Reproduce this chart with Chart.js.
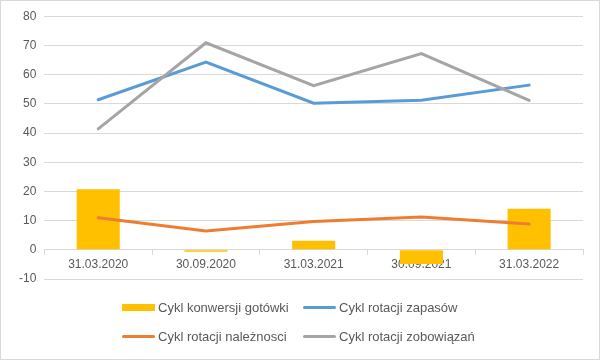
<!DOCTYPE html>
<html>
<head>
<meta charset="utf-8">
<script src="https://cdn.jsdelivr.net/npm/chart.js@4"></script>
<style>
  html, body { margin: 0; padding: 0; background: #fff; }
  #wrap { position: relative; width: 598px; height: 358px; border: 1px solid #d9d9d9; }
  #chart { position: absolute; left: 0; top: 0; }
  #legend {
    position: absolute; left: 121px; top: 297px;
    display: grid; grid-template-columns: 181px 200px; row-gap: 10px;
    font: 13px "Liberation Sans", Arial, sans-serif; color: #595959;
  }
  #legend .item { display: flex; align-items: center; height: 19px; white-space: nowrap; }
  #legend .sw { display: inline-block; width: 33px; margin-right: 3px; }
</style>
</head>
<body>
<div id="wrap">
  <canvas id="chart" width="598" height="358"></canvas>
  <div id="legend"></div>
</div>
<script>
const labels = ["31.03.2020", "30.09.2020", "31.03.2021", "30.09.2021", "31.03.2022"];
const konwersja = [20.7, -0.7, 3.1, -4.9, 14.1];
const zapasy = [51.4, 64.3, 50.2, 51.2, 56.4];
const naleznosci = [11.0, 6.4, 9.7, 11.2, 8.8];
const zobowiazania = [41.4, 70.9, 56.2, 67.2, 51.2];

const fontFamily = '"Liberation Sans", Arial, sans-serif';

const datasets = [
  {
    type: "bar",
    label: "Cykl konwersji gotówki",
    data: konwersja,
    backgroundColor: "#FFC000",
    barPercentage: 0.4,
    categoryPercentage: 1,
    order: 5
  },
  {
    type: "line",
    label: "Cykl rotacji zapasów",
    data: zapasy,
    borderColor: "#5B9BD5",
    borderWidth: 3,
    pointRadius: 0,
    borderCapStyle: "round",
    order: 3
  },
  {
    type: "line",
    label: "Cykl rotacji należnosci",
    data: naleznosci,
    borderColor: "#ED7D31",
    borderWidth: 3,
    pointRadius: 0,
    borderCapStyle: "round",
    order: 2
  },
  {
    type: "line",
    label: "Cykl rotacji zobowiązań",
    data: zobowiazania,
    borderColor: "#A5A5A5",
    borderWidth: 3,
    pointRadius: 0,
    borderCapStyle: "round",
    order: 1
  }
];

new Chart(document.getElementById("chart"), {
  data: { labels, datasets },
  options: {
    responsive: false,
    animation: false,
    layout: { padding: { left: 10, right: 16, top: 12, bottom: 80 } },
    plugins: { legend: { display: false }, tooltip: { enabled: false } },
    scales: {
      x: {
        position: { y: 0 },
        grid: { offset: true, drawOnChartArea: false, drawTicks: true, tickLength: 5, color: "#d9d9d9" },
        border: { color: "#d9d9d9" },
        ticks: { color: "#595959", font: { family: fontFamily, size: 12 }, padding: 3, maxRotation: 0 }
      },
      y: {
        min: -10,
        max: 80,
        grid: { color: "#d9d9d9", drawTicks: false },
        border: { display: false },
        ticks: { stepSize: 10, color: "#595959", font: { family: fontFamily, size: 12 }, padding: 8 }
      }
    }
  }
});

// legend in two columns like the reference
const legend = document.getElementById("legend");
datasets.forEach(ds => {
  const item = document.createElement("div");
  item.className = "item";
  const sw = document.createElement("span");
  sw.className = "sw";
  if (ds.type === "bar") {
    sw.style.height = "7px";
    sw.style.background = ds.backgroundColor;
  } else {
    sw.style.height = "3px";
    sw.style.borderRadius = "2px";
    sw.style.background = ds.borderColor;
  }
  item.appendChild(sw);
  item.appendChild(document.createTextNode(ds.label));
  legend.appendChild(item);
});
</script>
</body>
</html>
